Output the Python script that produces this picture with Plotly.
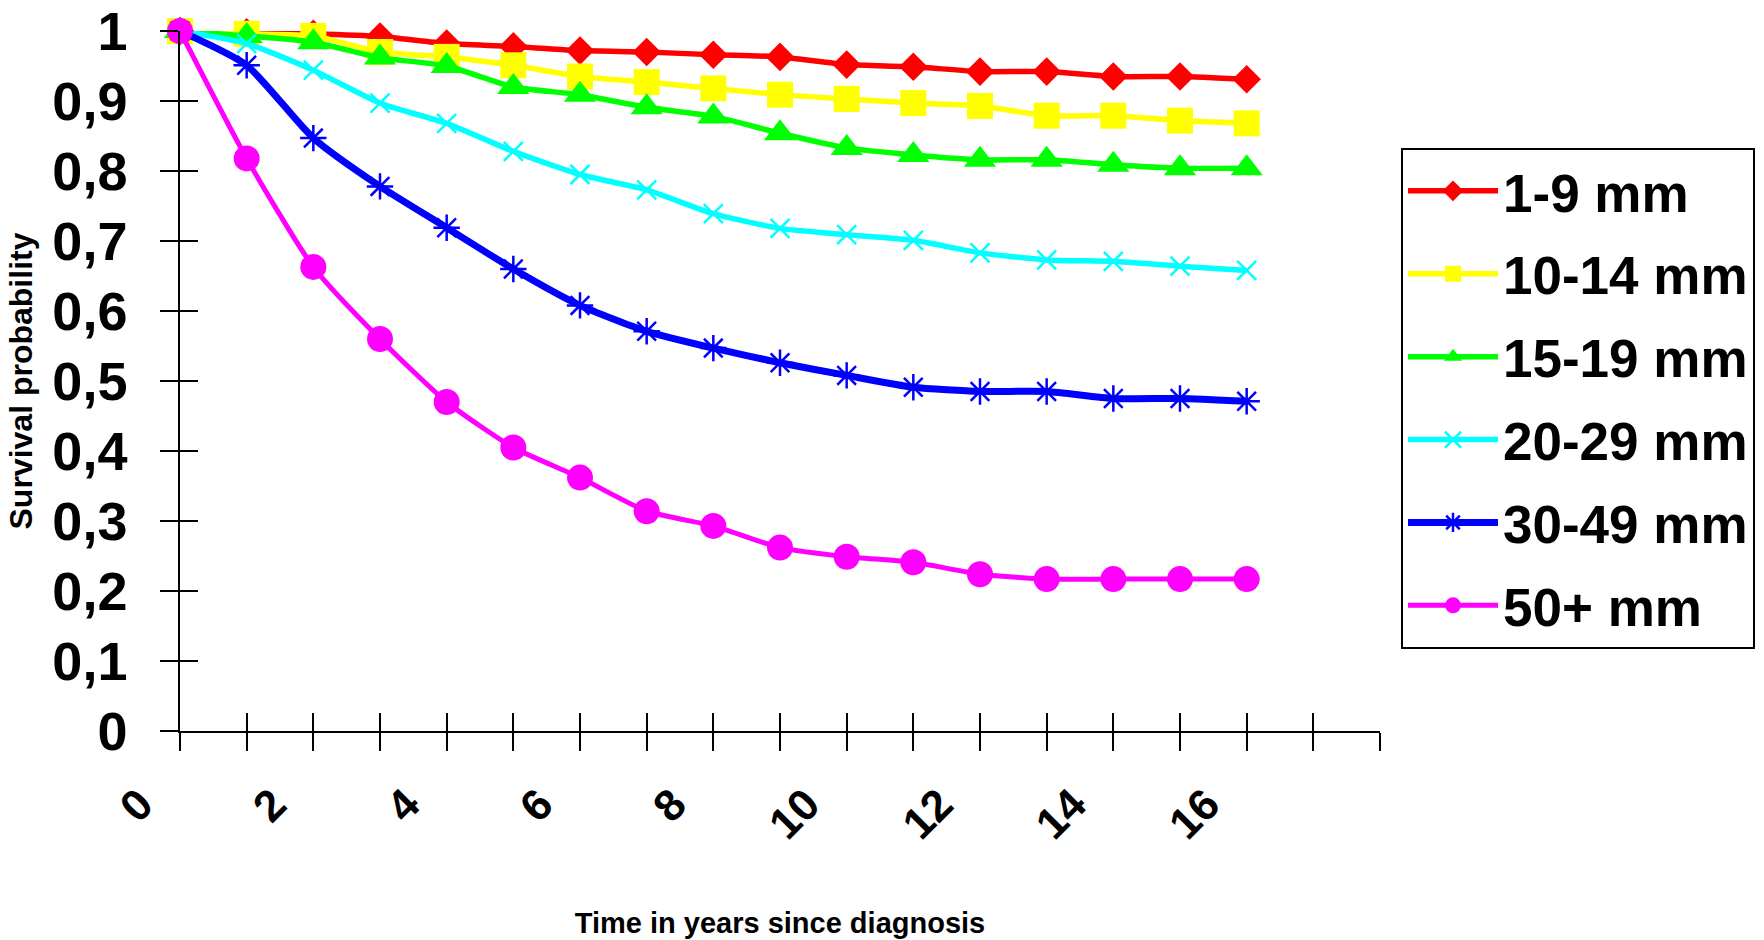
import plotly.graph_objects as go

years = list(range(17))
series_names = ["1-9 mm", "10-14 mm", "15-19 mm", "20-29 mm", "30-49 mm", "50+ mm"]

s_1_9 = [1.0, 0.998, 0.996, 0.992, 0.982, 0.978, 0.972, 0.970, 0.966, 0.963, 0.952, 0.949, 0.942, 0.942, 0.935, 0.935, 0.931]
s_10_14 = [1.0, 0.996, 0.993, 0.970, 0.963, 0.951, 0.935, 0.927, 0.918, 0.909, 0.903, 0.897, 0.893, 0.879, 0.879, 0.872, 0.868]
s_15_19 = [1.0, 0.993, 0.984, 0.962, 0.950, 0.920, 0.909, 0.891, 0.878, 0.854, 0.833, 0.823, 0.816, 0.816, 0.809, 0.804, 0.804]
s_20_29 = [1.0, 0.982, 0.944, 0.897, 0.868, 0.828, 0.795, 0.773, 0.739, 0.718, 0.709, 0.701, 0.683, 0.673, 0.671, 0.664, 0.658]
s_30_49 = [1.0, 0.951, 0.847, 0.778, 0.719, 0.660, 0.608, 0.571, 0.547, 0.526, 0.508, 0.491, 0.485, 0.485, 0.475, 0.475, 0.471]
s_50 = [1.0, 0.818, 0.663, 0.560, 0.470, 0.405, 0.362, 0.314, 0.293, 0.262, 0.249, 0.241, 0.224, 0.217, 0.217, 0.217, 0.217]

y_tickvals = [0, 0.1, 0.2, 0.3, 0.4, 0.5, 0.6, 0.7, 0.8, 0.9, 1.0]
y_ticktext = ["0", "0,1", "0,2", "0,3", "0,4", "0,5", "0,6", "0,7", "0,8", "0,9", "1"]
x_tickvals = list(range(19))
x_ticktext = ["0", "", "2", "", "4", "", "6", "", "8", "", "10", "", "12", "", "14", "", "16", "", ""]

all_series = [s_1_9, s_10_14, s_15_19, s_20_29, s_30_49, s_50]
colors = ["#FF0000", "#FFFF00", "#00FF00", "#00FFFF", "#0000FF", "#FF00FF"]
symbols = ["diamond", "square", "triangle-up", "x-thin-open", "asterisk-open", "circle"]
msizes = [22, 26, 28, 19, 22, 26]
lwidths = [5.5, 5.5, 5.5, 5.5, 7, 5]

FONT = "Liberation Sans, Arial, sans-serif"

fig = go.Figure()
for name, vals, c, sym, ms, lw in zip(series_names, all_series, colors, symbols, msizes, lwidths):
    open_sym = sym.endswith("open")
    fig.add_trace(go.Scatter(
        x=years, y=vals, name=name, mode="lines+markers",
        line=dict(color=c, width=lw, shape="spline", smoothing=0.6),
        marker=dict(symbol=sym, size=ms, color=c,
                    line=dict(color=c, width=2.5 if open_sym else 0)),
        cliponaxis=False, legendgroup=name,
    ))

# overlay axes carrying the inner half of the cross tick marks
fig.add_trace(go.Scatter(x=[], y=[], xaxis="x2", yaxis="y2", showlegend=False, hoverinfo="skip"))

fig.update_layout(
    width=1764, height=940,
    margin=dict(l=180, r=384, t=31, b=209, autoexpand=False),
    paper_bgcolor="white", plot_bgcolor="white",
    font=dict(family=FONT, color="black", weight="bold"),
    showlegend=True,
    legend=dict(
        x=1.0175, y=0.833, xanchor="left", yanchor="top",
        bordercolor="black", borderwidth=2, bgcolor="white",
        font=dict(size=53, family=FONT, weight="bold"),
        tracegroupgap=11, itemwidth=90, traceorder="grouped",
    ),
    xaxis=dict(
        range=[0, 18], tickmode="array", tickvals=x_tickvals, ticktext=x_ticktext,
        ticks="outside", ticklen=18, tickwidth=1.5, tickcolor="black",
        showline=True, linecolor="black", linewidth=1.5,
        showgrid=False, zeroline=False, tickangle=-45,
        tickfont=dict(size=44, family=FONT, weight="bold"),
        ticklabelshift=-40, ticklabelstandoff=10,
        title=dict(text="Time in years since diagnosis", standoff=66,
                   font=dict(size=29, family=FONT, weight="bold")),
        automargin=False,
    ),
    yaxis=dict(
        range=[0, 1], tickmode="array", tickvals=y_tickvals, ticktext=y_ticktext,
        ticks="outside", ticklen=18, tickwidth=1.5, tickcolor="black",
        showline=True, linecolor="black", linewidth=1.5,
        showgrid=False, zeroline=False,
        tickfont=dict(size=54, family=FONT, weight="bold"),
        ticklabelstandoff=22,
        title=dict(text="Survival probability", standoff=10,
                   font=dict(size=32, family=FONT, weight="bold")),
        automargin=False,
    ),
    xaxis2=dict(
        overlaying="x", anchor="y", side="bottom", range=[0, 18],
        tickmode="array", tickvals=x_tickvals, showticklabels=False,
        ticks="inside", ticklen=18, tickwidth=1.5, tickcolor="black",
        showline=False, showgrid=False, zeroline=False,
    ),
    yaxis2=dict(
        overlaying="y", anchor="x", side="left", range=[0, 1],
        tickmode="array", tickvals=y_tickvals, showticklabels=False,
        ticks="inside", ticklen=18, tickwidth=1.5, tickcolor="black",
        showline=False, showgrid=False, zeroline=False,
    ),
)

fig.write_html("out.html")
